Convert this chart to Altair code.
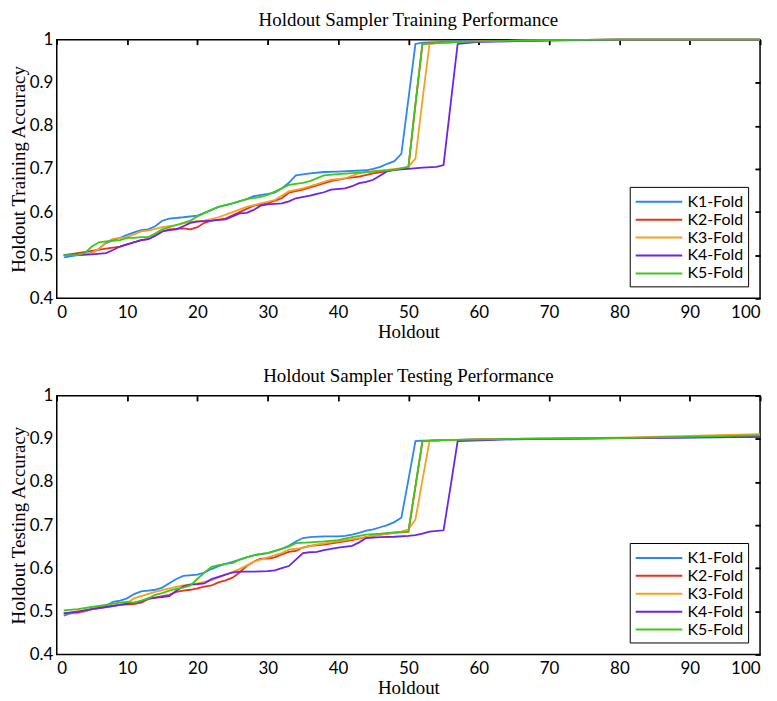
import altair as alt
import pandas as pd

SERIES = ["K1-Fold", "K2-Fold", "K3-Fold", "K4-Fold", "K5-Fold"]
COLORS = ["#2b86f5", "#e8321e", "#f5a01e", "#6d22ee", "#3dc81a"]
X_TICKS = [0, 10, 20, 30, 40, 50, 60, 70, 80, 90, 100]
Y_TICKS = [0.4, 0.5, 0.6, 0.7, 0.8, 0.9, 1.0]

# ---------------- Training ----------------
TR_K1_X = [1, 3, 5, 6, 7, 8, 9, 10, 11, 12, 13, 14, 15, 16, 18, 20, 21, 22, 23, 25, 27, 28, 30, 31, 32, 33, 34, 36, 38, 40, 44, 45, 46, 47, 48, 49, 50, 51, 52, 55, 60, 70, 80, 100]
TR_K1_Y = [0.495, 0.5, 0.505, 0.515, 0.528, 0.535, 0.54, 0.547, 0.553, 0.558, 0.56, 0.567, 0.58, 0.585, 0.588, 0.592, 0.598, 0.605, 0.612, 0.62, 0.63, 0.637, 0.642, 0.645, 0.655, 0.668, 0.685, 0.69, 0.693, 0.694, 0.697, 0.7, 0.705, 0.712, 0.718, 0.735, 0.862, 0.99, 0.993, 0.995, 0.997, 0.999, 1.0, 1.0]

TR_K2_X = [1, 3, 5, 7, 9, 10, 12, 13, 14, 15, 16, 18, 19, 20, 21, 22, 24, 26, 28, 30, 32, 33, 35, 37, 39, 41, 43, 45, 47, 50, 51, 52, 55, 60, 70, 80, 100]
TR_K2_Y = [0.5, 0.505, 0.51, 0.515, 0.52, 0.525, 0.535, 0.537, 0.545, 0.555, 0.56, 0.562, 0.56, 0.565, 0.575, 0.58, 0.585, 0.6, 0.615, 0.62, 0.632, 0.645, 0.652, 0.662, 0.672, 0.678, 0.682, 0.69, 0.695, 0.703, 0.85, 0.99, 0.993, 0.996, 0.999, 1.0, 1.0]

TR_K3_X = [1, 3, 5, 6, 7, 8, 9, 10, 12, 13, 15, 17, 19, 21, 23, 25, 27, 29, 31, 33, 35, 37, 39, 41, 43, 45, 47, 49, 50, 51, 52, 53, 55, 60, 70, 80, 100]
TR_K3_Y = [0.5, 0.5, 0.505, 0.515, 0.53, 0.538, 0.54, 0.542, 0.555, 0.557, 0.565, 0.57, 0.578, 0.58, 0.588, 0.6, 0.612, 0.62, 0.628, 0.648, 0.655, 0.665, 0.675, 0.678, 0.69, 0.695, 0.698, 0.702, 0.705, 0.724, 0.86, 0.99, 0.993, 0.996, 0.999, 1.0, 1.0]

TR_K4_X = [1, 3, 5, 7, 8, 9, 10, 11, 12, 13, 14, 15, 16, 17, 18, 19, 20, 22, 24, 25, 26, 27, 28, 29, 30, 32, 33, 34, 36, 37, 38, 39, 41, 42, 43, 44, 45, 46, 47, 48, 50, 52, 54, 55, 56, 57, 60, 70, 80, 100]
TR_K4_Y = [0.5, 0.5, 0.502, 0.505, 0.512, 0.52, 0.525, 0.53, 0.535, 0.537, 0.545, 0.555, 0.558, 0.56, 0.567, 0.575, 0.578, 0.58, 0.583, 0.59, 0.597, 0.598, 0.605, 0.615, 0.618, 0.62, 0.625, 0.632, 0.638, 0.642, 0.646, 0.652, 0.655, 0.66, 0.667, 0.67, 0.675, 0.685, 0.695, 0.698, 0.7, 0.703, 0.705, 0.709, 0.85, 0.99, 0.995, 0.998, 1.0, 1.0]

TR_K5_X = [1, 3, 4, 5, 6, 7, 8, 9, 10, 11, 12, 13, 14, 15, 17, 19, 20, 22, 23, 25, 27, 29, 30, 32, 33, 35, 36, 38, 40, 45, 48, 50, 51, 52, 55, 60, 70, 80, 100]
TR_K5_Y = [0.5, 0.5, 0.505, 0.52, 0.53, 0.532, 0.533, 0.535, 0.54, 0.54, 0.542, 0.542, 0.55, 0.56, 0.57, 0.58, 0.59, 0.605, 0.612, 0.62, 0.63, 0.635, 0.64, 0.655, 0.663, 0.668, 0.672, 0.685, 0.688, 0.694, 0.698, 0.705, 0.85, 0.99, 0.993, 0.996, 0.999, 1.0, 1.0]

# ---------------- Testing ----------------
TE_K1_X = [1, 2, 4, 6, 7, 8, 9, 10, 11, 12, 13, 14, 15, 16, 17, 18, 20, 21, 22, 23, 24, 25, 26, 27, 28, 30, 32, 33, 34, 35, 36, 38, 40, 41, 42, 43, 44, 45, 46, 47, 48, 49, 50, 51, 52, 55, 65, 80, 100]
TE_K1_Y = [0.49, 0.495, 0.5, 0.51, 0.513, 0.522, 0.525, 0.53, 0.54, 0.546, 0.548, 0.55, 0.555, 0.565, 0.575, 0.582, 0.585, 0.59, 0.598, 0.605, 0.61, 0.615, 0.62, 0.625, 0.63, 0.635, 0.645, 0.652, 0.662, 0.67, 0.672, 0.674, 0.674, 0.675, 0.678, 0.682, 0.687, 0.69, 0.695, 0.7, 0.707, 0.717, 0.805, 0.895, 0.896, 0.897, 0.9, 0.902, 0.905]

TE_K2_X = [1, 3, 5, 7, 9, 11, 12, 13, 14, 15, 16, 17, 18, 19, 20, 21, 22, 23, 24, 25, 26, 27, 28, 29, 30, 31, 32, 33, 34, 35, 36, 38, 40, 42, 44, 46, 48, 50, 51, 52, 55, 65, 80, 100]
TE_K2_Y = [0.495, 0.5, 0.505, 0.51, 0.515, 0.517, 0.52, 0.528, 0.532, 0.535, 0.538, 0.545, 0.548, 0.55, 0.553, 0.557, 0.56, 0.567, 0.572, 0.578, 0.59, 0.605, 0.615, 0.622, 0.622, 0.625, 0.632, 0.638, 0.64, 0.648, 0.652, 0.655, 0.66, 0.665, 0.672, 0.678, 0.682, 0.685, 0.79, 0.895, 0.897, 0.9, 0.902, 0.906]

TE_K3_X = [1, 3, 5, 7, 9, 10, 11, 12, 14, 16, 18, 20, 22, 24, 26, 28, 30, 32, 33, 35, 37, 39, 41, 43, 45, 47, 49, 50, 51, 52, 53, 55, 65, 80, 100]
TE_K3_Y = [0.495, 0.495, 0.505, 0.51, 0.515, 0.52, 0.53, 0.535, 0.545, 0.553, 0.56, 0.565, 0.572, 0.585, 0.598, 0.615, 0.625, 0.635, 0.643, 0.647, 0.655, 0.66, 0.665, 0.67, 0.675, 0.68, 0.685, 0.69, 0.713, 0.805, 0.895, 0.897, 0.9, 0.903, 0.911]

TE_K4_X = [1, 3, 5, 7, 9, 11, 12, 13, 15, 16, 17, 18, 19, 20, 21, 22, 23, 24, 25, 26, 28, 30, 31, 32, 33, 34, 35, 36, 37, 38, 39, 40, 42, 43, 44, 46, 48, 50, 51, 52, 53, 55, 56, 57, 65, 80, 100]
TE_K4_Y = [0.495, 0.498, 0.505, 0.51, 0.515, 0.52, 0.523, 0.53, 0.533, 0.535, 0.548, 0.558, 0.562, 0.563, 0.565, 0.575, 0.58, 0.585, 0.59, 0.592, 0.592, 0.593, 0.595, 0.6, 0.605, 0.62, 0.635, 0.637, 0.638, 0.642, 0.645, 0.648, 0.652, 0.66, 0.67, 0.672, 0.673, 0.675, 0.677, 0.68, 0.685, 0.688, 0.79, 0.895, 0.899, 0.902, 0.905]

TE_K5_X = [1, 3, 5, 7, 9, 10, 11, 12, 13, 14, 15, 16, 17, 18, 19, 20, 21, 22, 23, 24, 25, 26, 27, 28, 29, 30, 31, 32, 33, 34, 36, 38, 40, 42, 44, 46, 48, 50, 51, 52, 55, 65, 80, 100]
TE_K5_Y = [0.502, 0.505, 0.51, 0.515, 0.52, 0.522, 0.52, 0.525, 0.53, 0.538, 0.542, 0.548, 0.552, 0.555, 0.56, 0.575, 0.59, 0.603, 0.607, 0.61, 0.612, 0.62, 0.625, 0.63, 0.633, 0.635, 0.64, 0.645, 0.65, 0.658, 0.66, 0.662, 0.665, 0.672, 0.678, 0.68, 0.683, 0.685, 0.79, 0.895, 0.897, 0.9, 0.902, 0.908]

TRAIN = [(TR_K1_X, TR_K1_Y), (TR_K2_X, TR_K2_Y), (TR_K3_X, TR_K3_Y), (TR_K4_X, TR_K4_Y), (TR_K5_X, TR_K5_Y)]
TEST = [(TE_K1_X, TE_K1_Y), (TE_K2_X, TE_K2_Y), (TE_K3_X, TE_K3_Y), (TE_K4_X, TE_K4_Y), (TE_K5_X, TE_K5_Y)]

W, H = 707, 260
SERIF = "Liberation Serif"
SANS = "Lato"
# legend swatch: a wide horizontal stroke (unit-square path, scaled by symbol size)
SWATCH = "M-1,0H4.2"


def build_df(pairs):
    rows = []
    for name, (xs, ys) in zip(SERIES, pairs):
        assert len(xs) == len(ys), name
        for i, (x, y) in enumerate(zip(xs, ys)):
            rows.append({"fold": name, "holdout": x, "acc": y, "i": i})
    return pd.DataFrame(rows)


def panel(pairs, title, ytitle):
    df = build_df(pairs)
    xs = alt.Scale(domain=[0, 100], nice=False, zero=False)
    ys = alt.Scale(domain=[0.4, 1.0], nice=False, zero=False)
    base = alt.Chart(df)

    lines = base.mark_line(strokeWidth=1.8).encode(
        x=alt.X("holdout:Q", scale=xs,
                axis=alt.Axis(title="Holdout", values=X_TICKS, tickSize=0, domain=False,
                              grid=False, labelPadding=6, titlePadding=2)),
        y=alt.Y("acc:Q", scale=ys,
                axis=alt.Axis(title=ytitle, values=Y_TICKS, format="~g", tickSize=0,
                              domain=False, grid=False, labelPadding=4, titlePadding=1)),
        color=alt.Color("fold:N", scale=alt.Scale(domain=SERIES, range=COLORS),
                        legend=alt.Legend(title=None, orient="bottom-right", offset=12,
                                          symbolType=SWATCH, symbolSize=324,
                                          symbolStrokeWidth=2, strokeColor="black",
                                          fillColor="white", padding=5, rowPadding=0,
                                          labelFont=SANS, labelFontSize=16,
                                          labelColor="black", labelOffset=33)),
        order=alt.Order("i:Q"),
    )

    tick_axis = dict(title=None, labels=False, tickSize=5, tickWidth=1.5,
                     tickColor="black", domain=False, grid=False, offset=-5)
    ticks_bl = base.mark_line(strokeOpacity=0).encode(
        x=alt.X("holdout:Q", scale=xs, axis=alt.Axis(values=X_TICKS, **tick_axis)),
        y=alt.Y("acc:Q", scale=ys, axis=alt.Axis(values=Y_TICKS, **tick_axis)),
    )
    ticks_tr = base.mark_line(strokeOpacity=0).encode(
        x=alt.X("holdout:Q", scale=xs,
                axis=alt.Axis(orient="top", values=X_TICKS, **tick_axis)),
        y=alt.Y("acc:Q", scale=ys,
                axis=alt.Axis(orient="right", values=Y_TICKS, **tick_axis)),
    )

    return alt.layer(lines, ticks_bl, ticks_tr).resolve_axis(
        x="independent", y="independent"
    ).properties(
        width=W, height=H,
        title=alt.TitleParams(title, font=SERIF, fontSize=19, fontWeight="normal",
                              color="black", offset=1),
    )


top = panel(TRAIN, "Holdout Sampler Training Performance", "Holdout Training Accuracy")
bottom = panel(TEST, "Holdout Sampler Testing Performance", "Holdout Testing Accuracy")

chart = alt.vconcat(top, bottom, spacing=24).resolve_legend(
    color="independent"
).properties(
    padding={"left": 0, "top": 0, "right": 4, "bottom": 0},
    background="white",
).configure_view(
    stroke="black", strokeWidth=1.5
).configure_axis(
    labelFont=SANS, labelFontSize=17, labelColor="black",
    titleFont=SERIF, titleFontSize=19, titleFontWeight="normal", titleColor="black",
)

chart.save("out.html", embed_options={"renderer": "svg", "actions": False})
